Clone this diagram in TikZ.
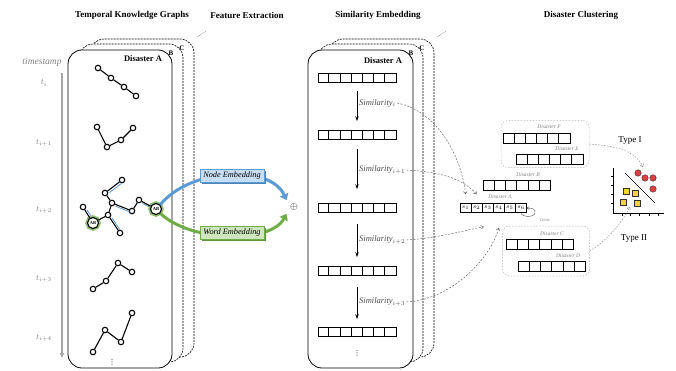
\documentclass[tikz,border=0pt]{standalone}
\usepackage{mathtools,amssymb}
\usepackage{fontspec}
\setmainfont{Liberation Serif}
\newfontfamily\dotsfont{DejaVu Sans}
\usetikzlibrary{arrows.meta,shadows}

\definecolor{embblue}{RGB}{91,155,213}
\definecolor{embgreen}{RGB}{112,173,71}
\definecolor{paleblue}{RGB}{198,221,243}
\definecolor{palegreen}{RGB}{206,230,189}
\definecolor{ptred}{RGB}{225,62,62}
\definecolor{ptyellow}{RGB}{242,212,52}

\tikzset{
  title/.style={font=\fontsize{9}{10}\selectfont\bfseries},
  stamp/.style={text=gray, font=\fontsize{9.5}{10}\selectfont\itshape},
  tlabel/.style={text=gray, font=\fontsize{8}{9}\selectfont},
  timeline/.style={gray!70, line width=1.4pt, -{Triangle[length=5pt,width=4pt]}},
  front/.style={draw, fill=white, line width=0.8pt, rounded corners=14pt},
  back/.style={draw, fill=white, line width=0.6pt, dash pattern=on 2pt off 1pt, rounded corners=14pt},
  boxname/.style={font=\fontsize{8.5}{9}\selectfont\bfseries},
  stackname/.style={font=\fontsize{7}{8}\selectfont\bfseries, inner sep=0pt},
  vdotsnode/.style={font=\fontsize{7}{7}\selectfont\dotsfont, inner sep=0pt},
  kg/.style={circle, draw, fill=white, line width=1.1pt, inner sep=0pt, minimum size=5.5pt},
  kgab/.style={circle, draw, fill=white, line width=1.1pt, inner sep=0pt, minimum size=11pt,
    preaction={draw=embgreen!80, line width=4.5pt}, font=\fontsize{4.5}{5}\selectfont\bfseries},
  kgedge/.style={line width=1.1pt},
  hl/.style={embblue, line width=0.8pt},
  embarrow/.style={line width=3pt, -{Triangle[length=6pt,width=9pt]}},
  nodeemb/.style={draw=embblue, fill=paleblue, line width=0.6pt, minimum width=64pt, minimum height=13pt,
    inner sep=0pt, font=\fontsize{8.3}{9}\selectfont\itshape,
    drop shadow={shadow xshift=1.5pt, shadow yshift=-1.5pt, fill=embblue!85!black, opacity=1}},
  wordemb/.style={draw=embgreen, fill=palegreen, line width=0.6pt, minimum width=64pt, minimum height=13pt,
    inner sep=0pt, font=\fontsize{8.3}{9}\selectfont\itshape,
    drop shadow={shadow xshift=1.5pt, shadow yshift=-1.5pt, fill=embgreen!85!black, opacity=1}},
  embrow/.style={draw, line width=0.7pt, minimum width=78pt, minimum height=9pt, inner sep=0pt},
  simarrow/.style={line width=0.7pt, -{Stealth[length=5pt,width=3.5pt]}},
  simlabel/.style={anchor=west, text=black!70, font=\fontsize{8.5}{9}\selectfont\itshape, inner sep=1pt},
  simlink/.style={black!70, line width=0.4pt, dash pattern=on 2pt off 1.5pt, -{To[length=3pt,width=4pt]}},
  grp/.style={draw=gray!60, line width=0.5pt, dash pattern=on 1.5pt off 1.5pt, rounded corners=7pt},
  clrow/.style={draw, line width=0.6pt, minimum width=67pt, minimum height=10pt, inner sep=0pt},
  scell/.style={draw, line width=0.6pt, minimum width=11.1pt, minimum height=9pt, inner sep=0pt,
    font=\fontsize{6}{6}\selectfont},
  clname/.style={text=gray, font=\fontsize{5.5}{6}\selectfont\itshape, inner sep=0pt},
  clink/.style={gray, line width=0.4pt, dash pattern=on 1.5pt off 1.5pt, -{To[length=3pt,width=4pt]}},
  typelabel/.style={font=\fontsize{9}{10}\selectfont},
  redpt/.style={circle, draw=black!80, fill=ptred, line width=0.4pt, inner sep=0pt, minimum size=6.5pt},
  yelpt/.style={rectangle, draw=black!80, fill=ptyellow, line width=0.4pt, inner sep=0pt, minimum size=5.5pt},
}

\begin{document}
\begin{tikzpicture}[x=1pt,y=-1pt]
\useasboundingbox (0,0) rectangle (676,371);

% headers
\node[title] (h1) at (132,15) {Temporal Knowledge Graphs};
\node[title] (h2) at (247,15) {Feature Extraction};
\node[title] (h3) at (378,15) {Similarity Embedding};
\node[title] (h4) at (581,15) {Disaster Clustering};

% time axis
\node[stamp] (ts) at (42,62) {timestamp};
\node[tlabel] (t0) at (44,83) {$t_i$};
\node[tlabel] (t1) at (44,143) {$t_{i+1}$};
\node[tlabel] (t2) at (44,210) {$t_{i+2}$};
\node[tlabel] (t3) at (44,279) {$t_{i+3}$};
\node[tlabel] (t4) at (44,338) {$t_{i+4}$};
\coordinate (tstart) at (62,73);
\coordinate (tend) at (62,358);
\draw[timeline] (tstart) -- (tend);

% knowledge graph stack
\draw[back] (90,39) rectangle (194,357);
\draw[back] (79,44) rectangle (183,362);
\draw[front] (68,50) rectangle (172,368);
\node[boxname] (kgA) at (143,59) {Disaster A};
\node[stackname] (kgB) at (171,53) {B};
\node[stackname] (kgC) at (182,48) {C};
\draw[densely dotted] (197,37) -- (206,31);

% t_i
\node[kg] (a1) at (98,68) {};
\node[kg] (a2) at (111,78) {};
\node[kg] (a3) at (124,87) {};
\node[kg] (a4) at (136,96) {};
\draw[kgedge] (a1) -- (a2) -- (a3) -- (a4);

% t_{i+1}
\node[kg] (b1) at (97,127) {};
\node[kg] (b2) at (107,147) {};
\node[kg] (b3) at (121,140) {};
\node[kg] (b4) at (133,128) {};
\draw[kgedge] (b1) -- (b2) -- (b3) -- (b4);

% t_{i+2}
\node[kg] (c1) at (122,180) {};
\node[kg] (c2) at (105,193) {};
\node[kg] (c3) at (112,203) {};
\node[kg] (c4) at (83,207) {};
\node[kg] (c5) at (108,215) {};
\node[kg] (c6) at (120,233) {};
\node[kg] (c7) at (132,211) {};
\node[kg] (c8) at (139,200) {};
\draw[hl, transform canvas={shift={(2pt,-1.5pt)}}] (c1) -- (c2);
\draw[hl, transform canvas={shift={(0.5pt,-2pt)}}] (c3) -- (c7);
\draw[hl, transform canvas={shift={(0.5pt,-2pt)}}] (c8) -- (155,208);
\draw[hl, transform canvas={shift={(2pt,0pt)}}] (c4) -- (93,222);
\draw[hl, transform canvas={shift={(2pt,0pt)}}] (c5) -- (c6);
\node[kgab] (ab1) at (93,223) {AB};
\node[kgab] (ab2) at (156,209) {AB};
\draw[kgedge] (c1) -- (c2) -- (c3) -- (c5) -- (c6);
\draw[kgedge] (c3) -- (c7) -- (c8) -- (ab2);
\draw[kgedge] (c5) -- (ab1) -- (c4);

% t_{i+3}
\node[kg] (d1) at (93,289) {};
\node[kg] (d2) at (106,281) {};
\node[kg] (d3) at (118,263) {};
\node[kg] (d4) at (132,272) {};
\draw[kgedge] (d1) -- (d2) -- (d3) -- (d4);

% t_{i+4}
\node[kg] (e1) at (93,352) {};
\node[kg] (e2) at (105,330) {};
\node[kg] (e3) at (121,342) {};
\node[kg] (e4) at (132,313) {};
\draw[kgedge] (e1) -- (e2) -- (e3) -- (e4);
\node[vdotsnode] (kgdots) at (112,362) {⋮};

% feature extraction
\node[font=\fontsize{10}{10}\selectfont] (plus) at (294,207) {$\oplus$};
\draw[embarrow, embblue] (ab2.north east) .. controls (190,168) and (270,164) .. (plus.north west);
\draw[embarrow, embgreen] (ab2.south east) .. controls (190,242) and (270,244) .. (plus.south west);
\node[nodeemb] (nemb) at (232,176) {Node Embedding};
\node[wordemb] (wemb) at (232,233) {Word Embedding};

% similarity stack
\draw[back] (329,39) rectangle (434,357);
\draw[back] (318,44) rectangle (423,362);
\draw[front] (308,50) rectangle (413,368);
\node[boxname] (smA) at (383,61) {Disaster A};
\node[stackname] (smB) at (411,53) {B};
\node[stackname] (smC) at (422,48) {C};
\draw[densely dotted] (437,37) -- (446,31);

\node[embrow] (r1) at (357,78) {};
\node[embrow] (r2) at (357,135) {};
\node[embrow] (r3) at (357,208) {};
\node[embrow] (r4) at (357,271) {};
\node[embrow] (r5) at (357,332) {};
\foreach \r in {r1,r2,r3,r4,r5}
  \foreach \k in {1,...,6}
    \draw[line width=0.7pt] ([xshift=\k*11.14pt]\r.south west) -- ([xshift=\k*11.14pt]\r.north west);

\draw[simarrow] ([yshift=-8pt]r1.south) -- ([yshift=9pt]r2.north);
\draw[simarrow] ([yshift=-9pt]r2.south) -- ([yshift=14pt]r3.north);
\draw[simarrow] ([yshift=-11pt]r3.south) -- ([yshift=9pt]r4.north);
\draw[simarrow] ([yshift=-11pt]r4.south) -- ([yshift=8pt]r5.north);
\node[simlabel] (sim0) at (358,103) {Similarity$_{i}$};
\node[simlabel] (sim1) at (358,170) {Similarity$_{i+1}$};
\node[simlabel] (sim2) at (358,240) {Similarity$_{i+2}$};
\node[simlabel] (sim3) at (358,302) {Similarity$_{i+3}$};
\node[vdotsnode] (smdots) at (357,353) {⋮};

% disaster clustering
\node[grp, minimum width=88pt, minimum height=47pt] (grpEF) at (545,144) {};
\node[grp, minimum width=87pt, minimum height=50pt] (grpCD) at (546,251) {};

\node[clname] (nF) at (549,127) {Disaster F};
\node[clrow] (rowF) at (536.5,138) {};
\node[clname] (nE) at (567,149) {Disaster E};
\node[clrow] (rowE) at (549.5,159) {};
\node[clname] (nB) at (528,175) {Disaster B};
\node[clrow] (rowB) at (517,185) {};
\node[clname] (nC) at (552,234) {Disaster C};
\node[clrow] (rowC) at (540,244) {};
\node[clname] (nD) at (568,256) {Disaster D};
\node[clrow] (rowD) at (552,266) {};
\foreach \r in {rowF,rowE,rowB,rowC,rowD}
  \foreach \k in {1,...,5}
    \draw[line width=0.6pt] ([xshift=\k*11.17pt]\r.south west) -- ([xshift=\k*11.17pt]\r.north west);

\node[clname] (nA) at (500,197) {Disaster A};
\node[scell] (s1) at (465.5,208) {$s_1$};
\node[scell] (s2) at (476.6,208) {$s_2$};
\node[scell] (s3) at (487.7,208) {$s_3$};
\node[scell] (s4) at (498.8,208) {$s_4$};
\node[scell] (s5) at (509.9,208) {$s_5$};
\node[scell] (s6) at (521.0,208) {$s_6$};
\draw[black!70, line width=0.4pt, -{To[length=2.5pt,width=3pt]}] (s6.south) .. controls (521,217) and (534,218) .. (535,213) .. controls (536,209) and (532,208) .. (s6.east);
\node[clname, font=\fontsize{4}{4}\selectfont\itshape] (del) at (545,220) {Delete};

\draw[simlink] (sim0.east) .. controls (440,112) and (462,160) .. ([yshift=9pt]s1.north);
\draw[simlink] (sim1.east) .. controls (440,172) and (462,178) .. ([yshift=9pt]s2.north);
\draw[simlink] (sim2.east) .. controls (440,238) and (465,230) .. ([xshift=-4pt,yshift=-14pt]s3.south);
\draw[simlink] (sim3.east) .. controls (450,300) and (490,260) .. ([yshift=-15pt]s4.south);

% scatter
\draw[line width=0.5pt] (613,168) -- (613,213) -- (664,213);
\foreach \tx in {622,630,639,649,658}
  \draw[line width=0.4pt] (\tx,213) -- (\tx,215.5);
\foreach \ty in {176,185,194,203}
  \draw[line width=0.4pt] (613,\ty) -- (610.5,\ty);
\draw[line width=0.5pt] (625,173) -- (655,203);
\node[redpt] (red1) at (638,173) {};
\node[redpt] (red2) at (645,178) {};
\node[redpt] (red3) at (653,178) {};
\node[redpt] (red4) at (653,189) {};
\node[yelpt] (yel1) at (626,191) {};
\node[yelpt] (yel2) at (635,193) {};
\node[yelpt] (yel3) at (623,202) {};
\node[yelpt] (yel4) at (637,203) {};
\node[typelabel] (type1) at (630,141) {Type I};
\node[typelabel] (type2) at (634,239) {Type II};
\coordinate (tipI) at (643,167);
\coordinate (tipII) at (630,207);
\draw[clink] (grpEF.east) .. controls (615,146) and (635,150) .. (tipI);
\draw[clink] (grpCD.east) .. controls (608,240) and (622,222) .. (tipII);

\end{tikzpicture}
\end{document}
